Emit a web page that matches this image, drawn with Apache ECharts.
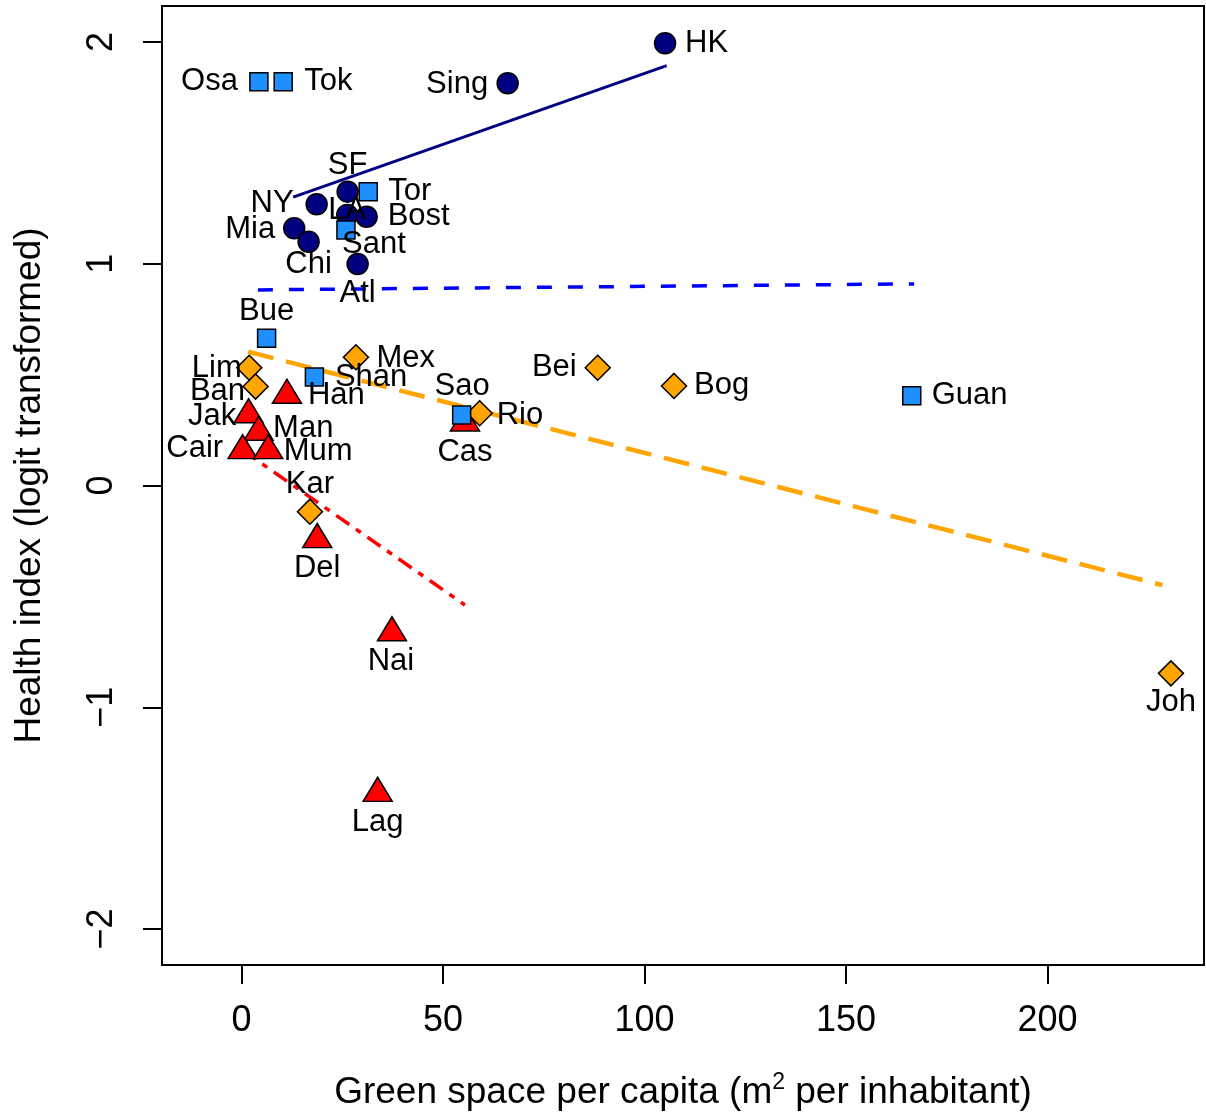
<!DOCTYPE html>
<html>
<head>
<meta charset="utf-8">
<script src="https://cdn.jsdelivr.net/npm/echarts@6/dist/echarts.min.js"></script>
<style>
  html, body { margin: 0; padding: 0; background: #fff; }
  #main { width: 1206px; height: 1116px; }
</style>
</head>
<body>
<div id="main"></div>
<script>
// navy circles
const circleNames = ['HK', 'Sing', 'SF', 'NY', 'LA', 'Bost', 'Mia', 'Chi', 'Atl'];
const circleX = [105.1, 66.05, 26.35, 18.66, 26.25, 31.07, 13.10, 16.67, 28.83];
const circleY = [1.994, 1.814, 1.325, 1.268, 1.220, 1.212, 1.160, 1.099, 0.999];

// blue squares
const squareNames = ['Osa', 'Tok', 'Tor', 'Sant', 'Bue', 'Shan', 'Sao', 'Guan'];
const squareX = [4.34, 10.37, 31.46, 25.93, 6.25, 18.11, 54.64, 166.3];
const squareY = [1.820, 1.820, 1.325, 1.152, 0.664, 0.489, 0.318, 0.405];

// orange diamonds
const diamondNames = ['Lim', 'Ban', 'Mex', 'Rio', 'Bei', 'Bog', 'Kar', 'Joh'];
const diamondX = [1.94, 3.52, 28.41, 59.11, 88.39, 107.32, 17.0, 230.6];
const diamondY = [0.531, 0.446, 0.578, 0.326, 0.531, 0.449, -0.118, -0.847];

// red triangles
const triangleNames = ['Han', 'Jak', 'Man', 'Cair', 'Mum', 'Cas', 'Del', 'Nai', 'Lag'];
const triangleX = [11.29, 1.79, 4.27, 0.30, 6.65, 55.46, 18.81, 37.35, 33.80];
const triangleY = [0.425, 0.337, 0.258, 0.175, 0.175, 0.300, -0.226, -0.646, -1.370];

// fitted lines, end points
const navyFitX = [12.85, 105.5];
const navyFitY = [1.300, 1.893];
const blueFitX = [4.09, 166.9];
const blueFitY = [0.882, 0.909];
const orangeFitX = [1.69, 228.5];
const orangeFitY = [0.603, -0.449];
const redFitX = [0.30, 55.46];
const redFitY = [0.159, -0.539];

const xTicks = [0, 50, 100, 150, 200];
const yTicks = [-2, -1, 0, 1, 2];

// where each city label sits: [align, dx, dy] in px from the point
const labelPlace = {
  HK: ['left', 20, -2], Sing: ['right', -19.5, -1], SF: ['center', 0, -28],
  NY: ['right', -23, -2.5], LA: ['center', 0, -6], Bost: ['left', 21, -2],
  Mia: ['right', -19, -1], Chi: ['center', 0, 21], Atl: ['center', 0, 28],
  Osa: ['right', -21, -2], Tok: ['left', 21, -2], Tor: ['left', 20, -2],
  Sant: ['center', 28, 12], Bue: ['center', 0, -29], Shan: ['left', 20.5, -2],
  Sao: ['center', 0.5, -31], Guan: ['left', 20, -2.5],
  Lim: ['right', -7.5, -1], Ban: ['right', -10.5, 3], Mex: ['left', 20.5, -1],
  Rio: ['left', 17, 0], Bei: ['right', -21, -2.5], Bog: ['left', 20, -2.5],
  Kar: ['center', 0, -29], Joh: ['center', 0, 27],
  Han: ['left', 21, 2], Jak: ['right', -12.5, 4], Man: ['left', 14.5, -1.5],
  Cair: ['right', -19.5, 0], Mum: ['left', 15.5, 3], Cas: ['center', 0, 31],
  Del: ['center', 0, 31], Nai: ['center', -1, 31], Lag: ['center', 0, 31]
};
const LABEL_SHIFT_Y = 2;

const FONT = '"Liberation Sans", Arial, sans-serif';

function points(names, xs, ys) {
  return names.map(function (n, i) {
    const p = labelPlace[n];
    return {
      name: n,
      value: [xs[i], ys[i]],
      label: {
        show: true,
        position: 'inside',
        align: p[0],
        verticalAlign: 'middle',
        offset: [p[1], p[2] + LABEL_SHIFT_Y],
        formatter: '{b}',
        color: '#000',
        fontSize: 31,
        fontFamily: FONT,
        textBorderWidth: 0
      }
    };
  });
}

function scatter(names, xs, ys, symbol, size, color) {
  return {
    type: 'scatter',
    symbol: symbol,
    symbolSize: size,
    itemStyle: { color: color, borderColor: '#000', borderWidth: 1.5, opacity: 1 },
    data: points(names, xs, ys),
    emphasis: { disabled: true },
    z: 3
  };
}

function fitLine(xs, ys, color, width, dash) {
  return {
    type: 'line',
    data: xs.map(function (x, i) { return [x, ys[i]]; }),
    showSymbol: false,
    silent: true,
    lineStyle: { color: color, width: width, type: dash, cap: 'butt' },
    z: 2
  };
}

// R draws negative tick labels with a true minus sign
function tickText(v) {
  return v < 0 ? '\u2212' + Math.abs(v) : String(v);
}

const chart = echarts.init(document.getElementById('main'));
chart.setOption({
  animation: false,
  backgroundColor: '#fff',
  grid: {
    left: 162, right: 2, top: 6, bottom: 151,
    show: true, borderColor: '#000', borderWidth: 2, backgroundColor: 'transparent'
  },
  xAxis: {
    type: 'value',
    min: -19.7,
    max: 238.8,
    name: '{t|Green space per capita (m}{s|2}{t| per inhabitant)}',
    nameLocation: 'middle',
    nameGap: 106,
    nameTextStyle: {
      color: '#000', fontSize: 37, fontFamily: FONT,
      rich: {
        t: { fontSize: 37, fontFamily: FONT, color: '#000' },
        s: { fontSize: 23, fontFamily: FONT, color: '#000', padding: [0, 0, 20, 0] }
      }
    },
    splitLine: { show: false },
    axisLine: { show: false, onZero: false },
    axisTick: {
      show: true, inside: false, length: 19,
      lineStyle: { color: '#000', width: 2 },
      customValues: xTicks
    },
    axisLabel: {
      customValues: xTicks,
      formatter: tickText,
      color: '#000', fontSize: 36, fontFamily: FONT, margin: 38
    }
  },
  yAxis: {
    type: 'value',
    min: -2.162,
    max: 2.162,
    name: 'Health index (logit transformed)',
    nameLocation: 'middle',
    nameGap: 114,
    nameRotate: 90,
    nameTextStyle: { color: '#000', fontSize: 37, fontFamily: FONT },
    splitLine: { show: false },
    axisLine: { show: false, onZero: false },
    axisTick: {
      show: true, inside: false, length: 19,
      lineStyle: { color: '#000', width: 2 },
      customValues: yTicks
    },
    axisLabel: {
      customValues: yTicks,
      formatter: tickText,
      rotate: 90,
      color: '#000', fontSize: 36, fontFamily: FONT, margin: 42
    }
  },
  series: [
    fitLine(navyFitX, navyFitY, '#000080', 3, 'solid'),
    fitLine(blueFitX, blueFitY, '#0000FF', 3.5, [15, 16]),
    fitLine(orangeFitX, orangeFitY, '#FFA500', 4.5, [26, 13]),
    fitLine(redFitX, redFitY, '#FF0000', 3.5, [16, 8, 6, 8]),
    scatter(triangleNames, triangleX, triangleY, 'triangle', [29, 24], '#FF0000'),
    scatter(diamondNames, diamondX, diamondY, 'diamond', 25, '#FFA500'),
    scatter(circleNames, circleX, circleY, 'circle', 21, '#000080'),
    scatter(squareNames, squareX, squareY, 'rect', 18, '#1E90FF')
  ]
});
</script>
</body>
</html>
